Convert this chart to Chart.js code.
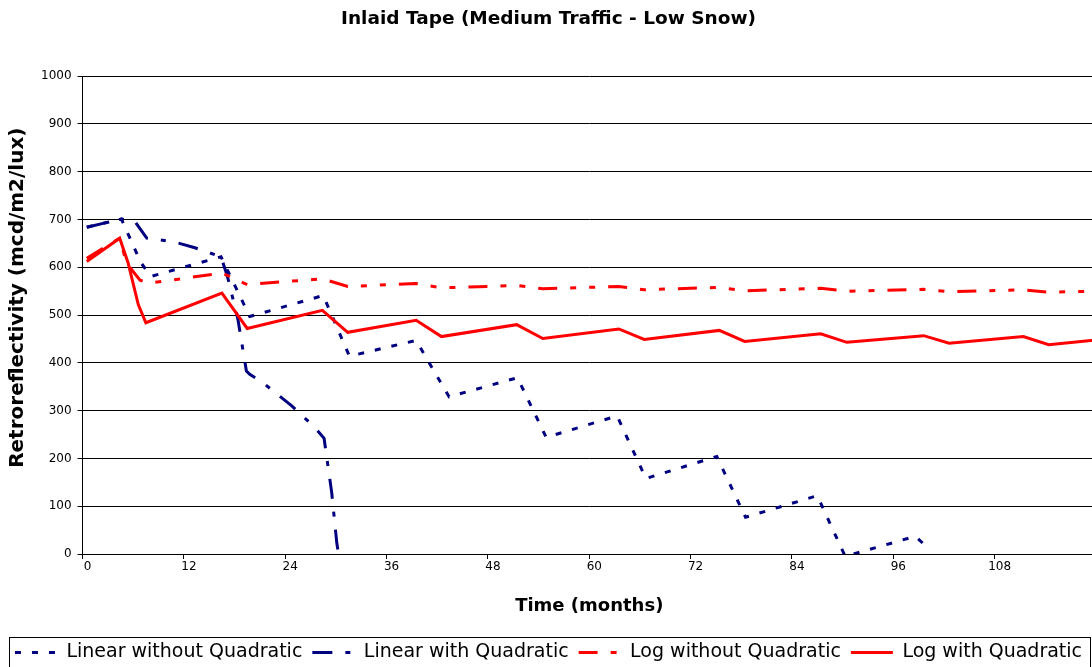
<!DOCTYPE html>
<html>
<head>
<meta charset="utf-8">
<title>Inlaid Tape (Medium Traffic - Low Snow)</title>
<script src="https://cdn.jsdelivr.net/npm/chart.js@4.4.1/dist/chart.umd.min.js"></script>
<style>
  html, body { margin: 0; padding: 0; background: #fff; overflow: hidden; }
  canvas { display: block; }
</style>
</head>
<body>
<canvas id="chart" width="1097" height="672"></canvas>
<script>
// months / retroreflectivity
const linWithoutMonths = [0.5, 4.6, 6.9, 8.1, 16.4, 19.8, 28.5, 31.6, 39.5, 43.4, 51.5, 54.9, 63.3, 66.7, 75.1, 78.5, 87.0, 90.3, 98.6, 100.4];
const linWithoutValues = [684, 701, 610, 581, 622, 497, 541, 414, 447, 329, 369, 244, 289, 158, 204, 77, 122, -5, 37, 8];

const linWithMonths = [0.5, 4.6, 6.2, 7.6, 9.0, 10.9, 13.3, 15.1, 16.4, 17.2, 18.4, 19.4, 19.8, 21.4, 24.7, 27.5, 28.6, 29.5, 30.1, 30.4];
const linWithValues = [684, 701, 696, 661, 658, 653, 641, 630, 622, 578, 491, 383, 376, 358, 311, 265, 242, 129, 24, -10];

const logWithoutMonths = [0.5, 4.4, 5.2, 6.8, 8.0, 16.5, 19.5, 28.4, 31.4, 39.5, 42.5, 51.4, 54.5, 63.5, 66.5, 75.4, 78.4, 87.4, 90.5, 99.6, 102.6, 111.4, 114.4, 120];
const logWithoutValues = [619, 661, 609, 573, 567, 588, 564, 576, 560, 566, 557, 562, 555, 560, 553, 558, 551, 556, 550, 554, 549, 553, 548, 550];

const logWithMonths = [0.5, 4.4, 5.4, 6.6, 7.5, 16.5, 19.5, 28.4, 31.4, 39.5, 42.5, 51.4, 54.5, 63.5, 66.5, 75.4, 78.4, 87.4, 90.5, 99.6, 102.6, 111.4, 114.4, 120];
const logWithValues = [612, 661, 609, 522, 484, 546, 472, 510, 464, 489, 455, 480, 451, 471, 449, 468, 445, 461, 443, 457, 441, 455, 438, 448];

const seriesLabels = ['Linear without Quadratic', 'Linear with Quadratic', 'Log without Quadratic', 'Log with Quadratic'];

const NAVY = '#000080';
const RED  = '#FF0000';
const FONT = 'DejaVu Sans';

function toPoints(months, values) {
    return months.map((m, i) => ({ x: m, y: values[i] }));
}

// box around the legend, like the Excel one
const legendFrame = {
    id: 'legendFrame',
    afterDraw(chart) {
        const boxes = chart.legend && chart.legend.legendHitBoxes;
        if (!boxes || !boxes.length) return;
        const left = boxes[0].left - 6;
        const last = boxes[boxes.length - 1];
        const right = last.left + last.width + 8;
        const top = boxes[0].top - 6;
        const ctx = chart.ctx;
        ctx.save();
        ctx.strokeStyle = '#000';
        ctx.lineWidth = 1;
        ctx.setLineDash([]);
        ctx.strokeRect(Math.round(left) + 0.5, Math.round(top) + 0.5, Math.round(right - left), 60);
        ctx.restore();
    },
};

Chart.defaults.color = '#000';
Chart.defaults.font.family = FONT;

const defaultLabels = Chart.defaults.plugins.legend.labels.generateLabels;

new Chart(document.getElementById('chart'), {
    type: 'line',
    data: {
        datasets: [
            {
                label: seriesLabels[0],
                data: toPoints(linWithoutMonths, linWithoutValues),
                borderColor: NAVY,
                borderWidth: 3,
                borderDash: [6, 11],
                order: 4,
            },
            {
                label: seriesLabels[1],
                data: toPoints(linWithMonths, linWithValues),
                borderColor: NAVY,
                borderWidth: 3,
                borderDash: [20, 13, 5, 13],
                order: 3,
            },
            {
                label: seriesLabels[2],
                data: toPoints(logWithoutMonths, logWithoutValues),
                borderColor: RED,
                borderWidth: 3,
                borderDash: [19, 13, 6, 13, 6, 13],
                order: 2,
            },
            {
                label: seriesLabels[3],
                data: toPoints(logWithMonths, logWithValues),
                borderColor: RED,
                borderWidth: 3,
                order: 1,
            },
        ],
    },
    options: {
        responsive: false,
        animation: false,
        layout: { padding: 0 },
        elements: {
            point: { radius: 0, hoverRadius: 0 },
            line: { tension: 0, fill: false },
        },
        plugins: {
            title: {
                display: true,
                text: 'Inlaid Tape (Medium Traffic - Low Snow)',
                font: { size: 18.5, weight: 'bold' },
                padding: { top: 8, bottom: 46 },
            },
            legend: {
                position: 'bottom',
                labels: {
                    font: { size: 19 },
                    usePointStyle: true,
                    pointStyle: 'line',
                    pointStyleWidth: 42,
                    boxWidth: 42,
                    padding: 10,
                    sort: (a, b) => a.datasetIndex - b.datasetIndex,
                    // point style loses the dash pattern, put it back from the dataset
                    generateLabels(chart) {
                        return defaultLabels(chart).map((item) => {
                            const ds = chart.data.datasets[item.datasetIndex];
                            item.lineDash = ds.borderDash || [];
                            item.lineWidth = 3;
                            item.strokeStyle = ds.borderColor;
                            return item;
                        });
                    },
                },
            },
            tooltip: { enabled: false },
        },
        scales: {
            x: {
                type: 'linear',
                min: 0,
                max: 120,
                border: { color: '#000', width: 1 },
                grid: { drawOnChartArea: false, drawTicks: true, tickLength: 5, tickColor: '#000' },
                ticks: {
                    stepSize: 12,
                    autoSkip: false,
                    maxRotation: 0,
                    padding: 1,
                    labelOffset: 5,
                    font: { size: 12 },
                    callback: (v) => (v === 120 ? '' : String(v)),
                },
                title: {
                    display: true,
                    text: 'Time (months)',
                    font: { size: 18, weight: 'bold' },
                    padding: { top: 20, bottom: 16 },
                },
            },
            y: {
                min: 0,
                max: 1000,
                border: { color: '#000', width: 1 },
                grid: { color: '#000', lineWidth: 1, tickLength: 5 },
                ticks: {
                    stepSize: 100,
                    padding: 6,
                    font: { size: 12 },
                    callback: (v) => String(v),
                },
                title: {
                    display: true,
                    // leading spaces push the text up a little, as in the original
                    text: '     Retroreflectivity (mcd/m2/lux)',
                    font: { size: 20, weight: 'bold' },
                    padding: { top: 6, bottom: 5 },
                },
            },
        },
    },
    plugins: [legendFrame],
});
</script>
</body>
</html>
